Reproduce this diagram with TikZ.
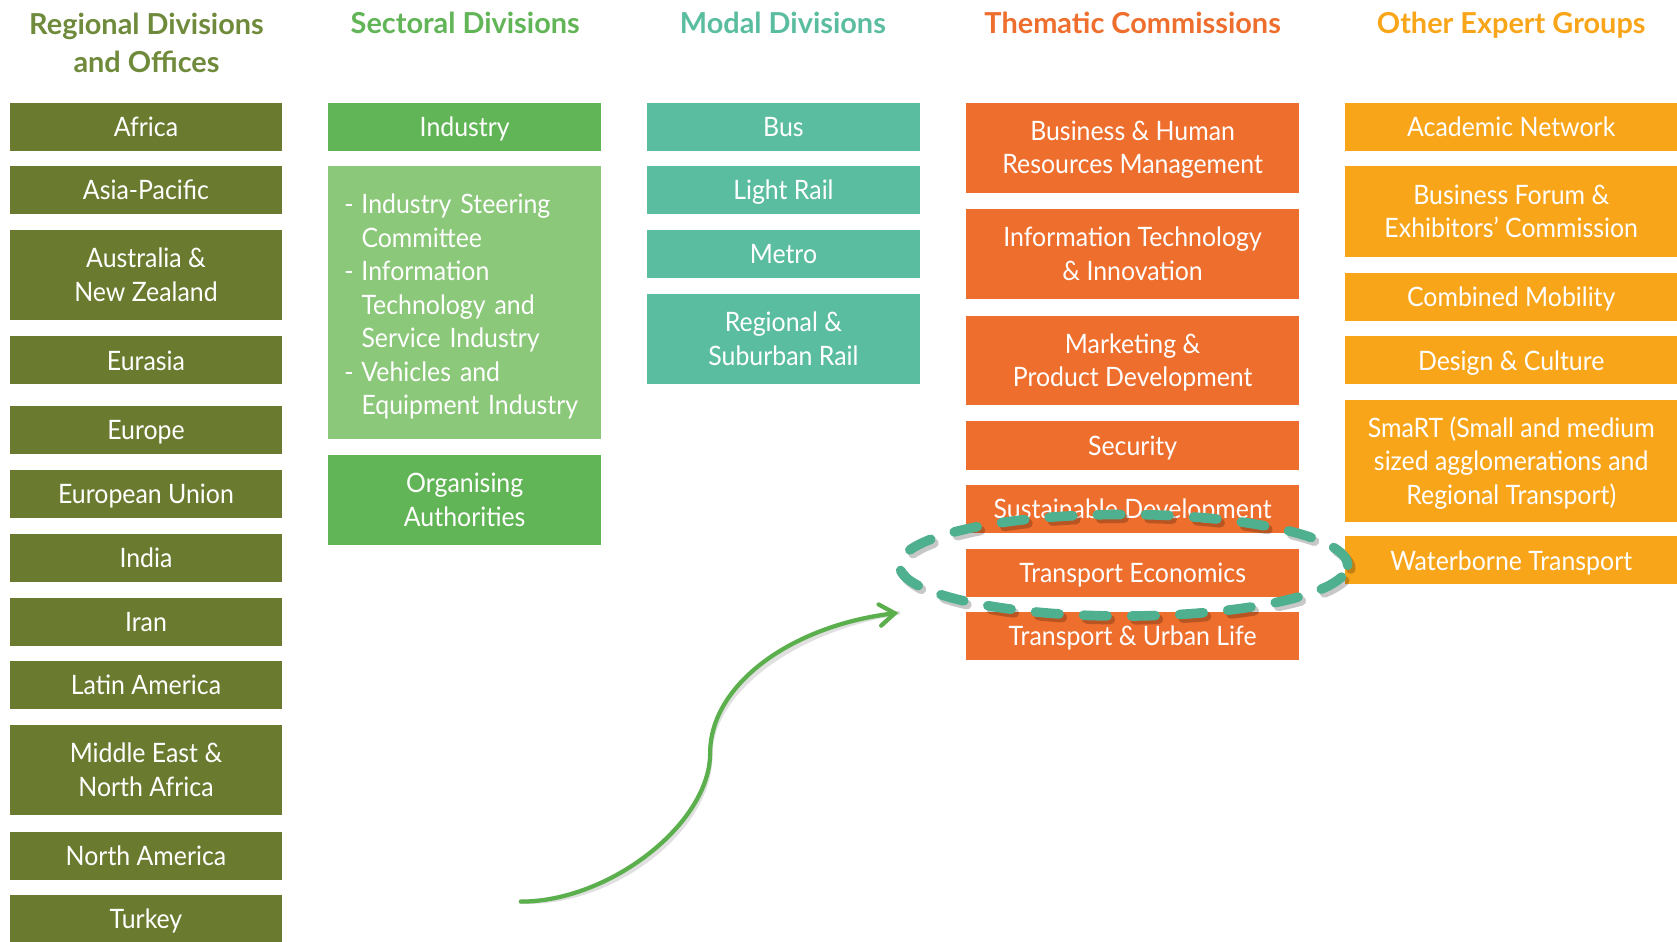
\documentclass[tikz,border=0pt]{standalone}
\usepackage{fontspec}
\setmainfont[FakeStretch=0.93]{Lato}
\newfontfamily\headfont{Lato Bold}
\usetikzlibrary{shapes.geometric,arrows.meta}

\definecolor{regional}{HTML}{6A7B30}
\definecolor{regionalhead}{HTML}{6E8A3A}
\definecolor{sector}{HTML}{62B557}
\definecolor{sectorlight}{HTML}{8BC87A}
\definecolor{modal}{HTML}{5BBD9F}
\definecolor{thematic}{HTML}{EE6E2D}
\definecolor{expert}{HTML}{F9A51A}
\definecolor{ring}{HTML}{4FB090}
\definecolor{arrowgreen}{HTML}{5BB04D}

\newcommand{\cellfont}{\fontsize{25}{31.3}\selectfont}
\newcommand{\headerfont}{\headfont\fontsize{27}{36}\selectfont}
% strut that gives every first line the same height
\newcommand{\cs}{\rule{0pt}{23pt}}
\newcommand{\itemdash}{\makebox[16pt][l]{-}}
\newcommand{\itemcont}{\hspace*{16pt}}

\begin{document}
\begin{tikzpicture}[x=1pt,y=-1pt,
  cellbase/.style={inner sep=0pt, text=white, font=\cellfont},
  cell/.style={cellbase, align=center, text depth=5pt, minimum height=45pt},
  tall/.style={minimum height=84pt},
  regionbox/.style={cell, fill=regional, minimum width=255pt},
  sectorbox/.style={cell, fill=sector, minimum width=255pt},
  modalbox/.style={cell, fill=modal, minimum width=255pt},
  themebox/.style={cell, fill=thematic, minimum width=312pt},
  expertbox/.style={cell, fill=expert, minimum width=310pt},
  listbox/.style={cellbase, fill=sectorlight, minimum width=255pt,
                  text width=225pt, inner xsep=15pt, align=left},
  heading/.style={inner sep=0pt, align=center, font=\headerfont},
  oneheading/.style={heading, text height=19.5pt, text depth=0pt},
  ringstyle/.style={ellipse, inner sep=0pt, line width=9pt,
                    dash pattern=on 22pt off 23pt, line cap=round,
                    minimum width=419pt, minimum height=95pt},
  linkarrow/.style={line width=4pt, line cap=round,
                    -{Straight Barb[length=14pt,width=20pt,line cap=round]}}
]
\useasboundingbox (0,0) rectangle (1568,880);

% column headings
\node[heading, text=regionalhead] (hregional) at (137,40) {Regional Divisions\\and Offices};
\node[oneheading, text=sector]   (hsector)   at (435,22) {Sectoral Divisions};
\node[oneheading, text=modal]    (hmodal)    at (732,22) {Modal Divisions};
\node[oneheading, text=thematic] (hthematic) at (1059,22) {Thematic Commissions};
\node[oneheading, text=expert]   (hexpert)   at (1413,22) {Other Expert Groups};

% regional divisions and offices
\node[regionbox] (africa)   at (136.5,118.5) {\cs Africa};
\node[regionbox] (asia)     at (136.5,177.5) {\cs Asia-Pacific};
\node[regionbox, tall] (australia) at (136.5,257) {\cs Australia \&\\New Zealand};
\node[regionbox] (eurasia)  at (136.5,337) {\cs Eurasia};
\node[regionbox] (europe)   at (136.5,402) {\cs Europe};
\node[regionbox] (eu)       at (136.5,461.5) {\cs European Union};
\node[regionbox] (india)    at (136.5,521.5) {\cs India};
\node[regionbox] (iran)     at (136.5,581.5) {\cs Iran};
\node[regionbox] (latam)    at (136.5,640.5) {\cs Latin America};
\node[regionbox, tall] (mena) at (136.5,720) {\cs Middle East \&\\North Africa};
\node[regionbox] (namerica) at (136.5,800) {\cs North America};
\node[regionbox] (turkey)   at (136.5,859.5) {\cs Turkey};

% sectoral divisions
\node[sectorbox] (industry) at (434.5,118.5) {\cs Industry};
\node[fill=sectorlight, minimum width=255pt, minimum height=255pt, inner sep=0pt]
  (industrylist) at (434.5,282.5) {};
\node[listbox] (industryitems) at (434.5,284.5)
  {\cs\itemdash Industry Steering\\\itemcont Committee\\\itemdash Information\\
   \itemcont Technology and\\\itemcont Service Industry\\\itemdash Vehicles and\\
   \itemcont Equipment Industry};
\node[sectorbox, minimum height=85pt] (authorities) at (434.5,467.5) {\cs Organising\\Authorities};

% modal divisions
\node[modalbox] (bus)       at (732.5,118.5) {\cs Bus};
\node[modalbox] (lightrail) at (732.5,177.5) {\cs Light Rail};
\node[modalbox] (metro)     at (732.5,237.5) {\cs Metro};
\node[modalbox, tall] (suburban) at (732.5,317) {\cs Regional \&\\Suburban Rail};

% thematic commissions
\node[themebox, tall] (business)  at (1059,138) {\cs Business \& Human\\Resources Management};
\node[themebox, minimum height=85pt] (ittech) at (1059,237.5) {\cs Information Technology\\\& Innovation};
\node[themebox, tall] (marketing) at (1059,337) {\cs Marketing \&\\Product Development};
\node[themebox] (security)    at (1059,416.5) {\cs Security};
\node[themebox] (sustainable) at (1059,476) {\cs Sustainable Development};
\node[themebox] (economics)   at (1059,536) {\cs Transport Economics};
\node[themebox] (urbanlife)   at (1059,595) {\cs Transport \& Urban Life};

% other expert groups
\node[expertbox] (academic) at (1413,118.5) {\cs Academic Network};
\node[expertbox, minimum height=85pt] (forum) at (1413,197.5) {\cs Business Forum \&\\Exhibitors' Commission};
\node[expertbox] (combined) at (1413,277.5) {\cs Combined Mobility};
\node[expertbox] (design)   at (1413,337) {\cs Design \& Culture};
\node[expertbox, minimum height=114pt] (smart) at (1413,431) {\cs SmaRT (Small and medium\\sized agglomerations and\\Regional Transport)};
\node[expertbox] (waterborne) at (1413,524) {\cs Waterborne Transport};

% dashed ring around Transport Economics, with a soft shadow
\node[ringstyle, draw=black, opacity=0.22] (ringshadow) at (1053.5,532) {};
\node[ringstyle, draw=ring] (ring) at (1050.5,528.5) {};

% curved pointer towards the ring
\coordinate (curvestart) at (487,843);
\coordinate (curvemid) at (664,704);
\coordinate (curveend) at (840,573);
\draw[line width=4pt, line cap=round, black, opacity=0.12, shift={(3,4)}]
  (curvestart) .. controls (570,843) and (664,770) .. (curvemid)
  .. controls (664,640) and (740,585) .. (curveend);
\draw[linkarrow, arrowgreen]
  (curvestart) .. controls (570,843) and (664,770) .. (curvemid)
  .. controls (664,640) and (740,585) .. (curveend);
\end{tikzpicture}
\end{document}
